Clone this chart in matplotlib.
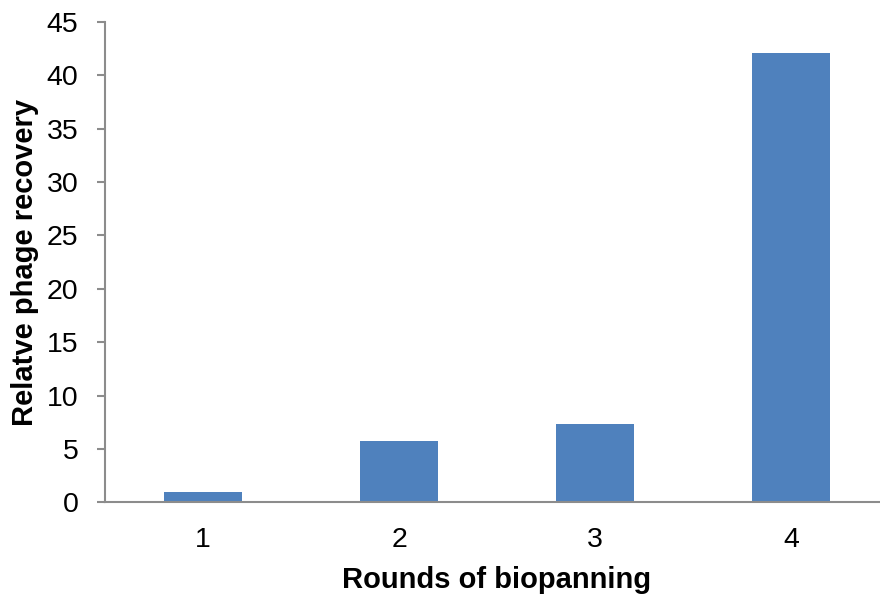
import matplotlib.pyplot as plt
import numpy as np

# Data
rounds = ['1', '2', '3', '4']
recovery = [1.0, 5.7, 7.35, 42.05]

plt.rcParams['font.family'] = ['Liberation Sans', 'DejaVu Sans']

fig = plt.figure(figsize=(8.8, 5.96), dpi=100)
# axes placed in pixel terms: left 105, bottom 502.3, right 889, top 22
W, H = 880.0, 596.0
ax = fig.add_axes([105 / W, (H - 502.3) / H, (889 - 105) / W, (502.3 - 22) / H])

x = np.arange(1, len(rounds) + 1)
ax.bar(x, recovery, width=0.4, color='#4F81BD', edgecolor='none', zorder=2)

ax.set_xlim(0.5, 4.5)
ax.set_ylim(0, 45)
ax.set_yticks(np.arange(0, 46, 5))
ax.set_xticks(x)
ax.set_xticklabels(rounds)

for side in ['top', 'right']:
    ax.spines[side].set_visible(False)
for side in ['left', 'bottom']:
    ax.spines[side].set_color('#8C8C8C')
    ax.spines[side].set_linewidth(1.5)
    ax.spines[side].set_zorder(3)

ax.tick_params(axis='y', direction='out', length=6, width=1.5, color='#8C8C8C',
               labelsize=20.5, pad=13)
ax.tick_params(axis='x', length=0, labelsize=20.5, pad=18)

ax.set_xlabel('Rounds of biopanning', fontsize=21, fontweight='bold', labelpad=9)
ax.set_ylabel('Relatve phage recovery', fontsize=21, fontweight='bold', labelpad=6)

fig.savefig('out.png', dpi=100)
